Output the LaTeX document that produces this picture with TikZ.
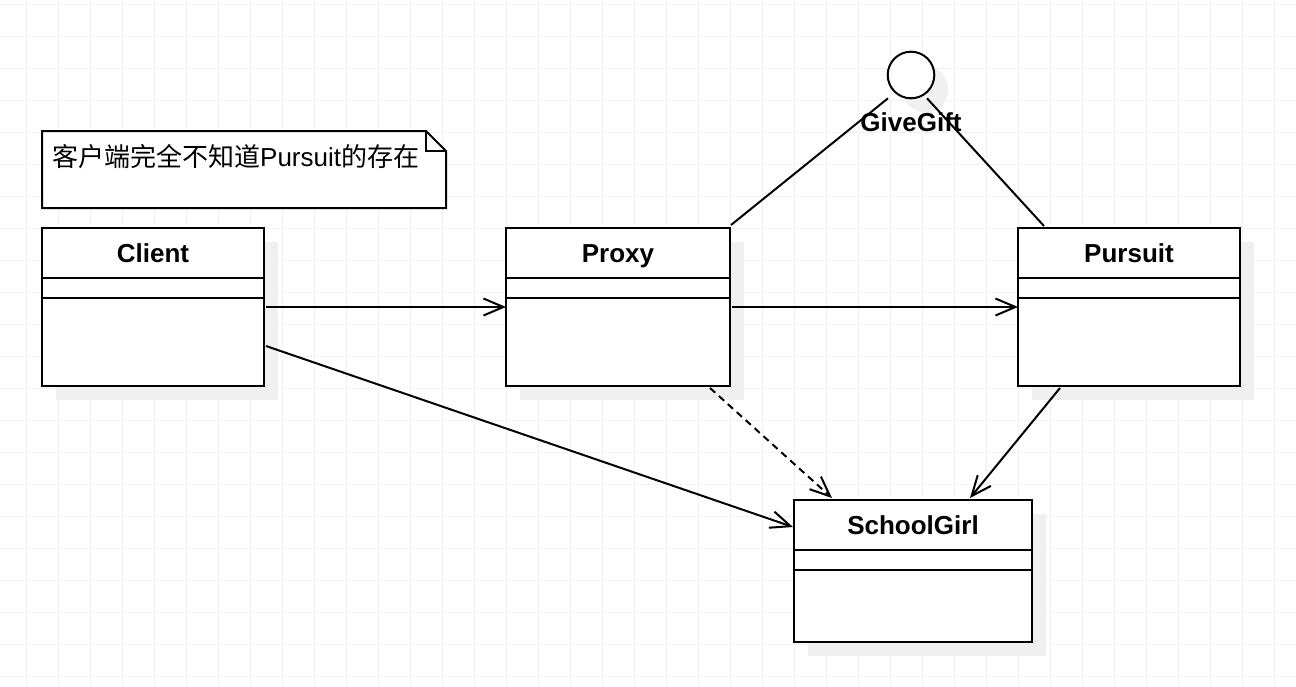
\documentclass[tikz,border=0pt]{standalone}
\usepackage{fontspec}
\setmainfont{Liberation Sans}
\newfontfamily\cjk{Noto Sans CJK SC}
\usetikzlibrary{arrows.meta,calc}

\tikzset{
  umlbox/.style={draw, line width=2pt, fill=white, inner sep=0pt, outer sep=0pt, anchor=north west},
  umlshadow/.style={fill=black!6},
  umlname/.style={font=\fontsize{26}{30}\selectfont\bfseries, inner sep=0pt, anchor=base},
  assoc/.style={line width=2pt, -{Straight Barb[length=20pt,width=17pt]}},
  gridline/.style={black!5, line width=1pt},
}

\begin{document}
\begin{tikzpicture}[x=1pt,y=-1pt]
\useasboundingbox (0,0) rectangle (1296,686);
% background grid
\foreach \gx in {26,58,...,1296} \draw[gridline] (\gx,0) -- (\gx,686);
\foreach \gy in {4,36,...,686} \draw[gridline] (0,\gy) -- (1296,\gy);

% note
\draw[line width=2pt, fill=white] (42,131) -- (426,131) -- (446,151) -- (446,208) -- (42,208) -- cycle;
\draw[line width=2pt] (426,131) -- (426,151) -- (446,151);
\node[anchor=base west, inner sep=0pt, font=\fontsize{26}{30}\selectfont] (note) at (52,166) {{\cjk 客户端完全不知道}Pursuit{\cjk 的存在}};

% classes
\foreach \n/\t/\x/\y/\w/\h in {client/Client/42/228/222/158, proxy/Proxy/506/228/224/158, pursuit/Pursuit/1018/228/222/158, girl/SchoolGirl/794/500/238/142}{
  \fill[umlshadow] (\x+14,\y+14) rectangle ++(\w,\h);
  \node[umlbox, minimum width=\w pt, minimum height=\h pt] (\n) at (\x,\y) {};
  \draw[line width=2pt] ($(\n.north west)+(0,50)$) -- ++(\w,0) ($(\n.north west)+(0,70)$) -- ++(\w,0);
  \node[umlname] (\n-name) at ($(\n.north)+(0,34)$) {\t};
}

% interface
\fill[umlshadow] (925,89) circle[radius=23.3];
\node[circle, draw, line width=2pt, fill=white, minimum size=46.6pt, inner sep=0pt, outer sep=0pt] (gift) at (911,75) {};
\draw[line width=2pt] ($(gift.south)+(-23,0)$) -- ($(proxy.north east)+(1,-3)$);
\draw[line width=2pt] ($(gift.south)+(16,0)$) -- ($(pursuit.north west)+(26,-2)$);
\node[umlname] (gift-name) at (911,131) {GiveGift};

% associations
\draw[assoc, shorten <=2pt] (client.east) -- (proxy.west);
\draw[assoc, shorten <=2pt] (proxy.east) -- (pursuit.west);
\draw[assoc] ($(client.south east)+(2,-40)$) -- ($(girl.north west)+(-1,27)$);
\draw[assoc, dash pattern=on 7pt off 5pt] ($(proxy.south east)+(-20,2)$) -- ($(girl.north west)+(38,-2)$);
\draw[assoc] ($(pursuit.south west)+(42,2)$) -- ($(girl.north west)+(176,-2)$);
\end{tikzpicture}
\end{document}
